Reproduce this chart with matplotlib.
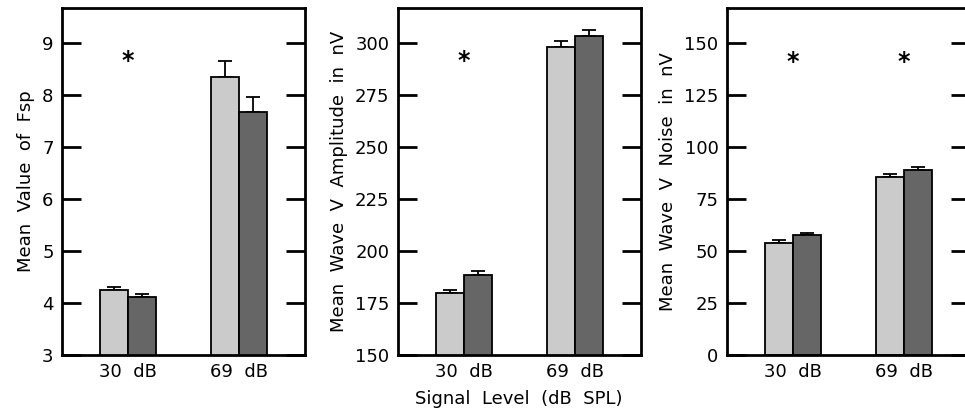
import matplotlib
matplotlib.use("Agg")
import matplotlib.pyplot as plt
import numpy as np

# ---------------------------------------------------------------------------
# Data
# ---------------------------------------------------------------------------
levels = ["30  dB", "69  dB"]

fsp_light = [4.25, 8.34]
fsp_light_err = [0.05, 0.31]
fsp_dark = [4.12, 7.68]
fsp_dark_err = [0.05, 0.28]

amp_light = [179.7, 297.9]
amp_light_err = [1.6, 3.1]
amp_dark = [188.5, 303.4]
amp_dark_err = [2.0, 3.0]

noise_light = [54.0, 85.8]
noise_light_err = [1.3, 1.3]
noise_dark = [57.6, 89.0]
noise_dark_err = [1.0, 1.5]

# significance markers: (category index, y value)
fsp_stars = [(0, 8.66)]
amp_stars = [(0, 291.5)]
noise_stars = [(0, 141), (1, 141)]

LIGHT = "#cbcbcb"
DARK = "#666666"
BAR_W = 0.252

plt.rcParams["font.family"] = ["DejaVu Sans"]
plt.rcParams["font.size"] = 13

fig = plt.figure(figsize=(9.65, 4.16), dpi=100)

panels = [
    (0.0642, fsp_light, fsp_light_err, fsp_dark, fsp_dark_err,
     (3, 9.67), [3, 4, 5, 6, 7, 8, 9], "Mean  Value  of  Fsp", fsp_stars),
    (0.4121, amp_light, amp_light_err, amp_dark, amp_dark_err,
     (150, 316.8), [150, 175, 200, 225, 250, 275, 300],
     "Mean  Wave  V  Amplitude  in  nV", amp_stars),
    (0.7531, noise_light, noise_light_err, noise_dark, noise_dark_err,
     (0, 166.8), [0, 25, 50, 75, 100, 125, 150],
     "Mean  Wave  V  Noise  in  nV", noise_stars),
]

x = np.arange(len(levels))
for i, (left, light, light_err, dark, dark_err, ylim, yticks, ylabel, stars) in enumerate(panels):
    ax = fig.add_axes([left, 0.1466, 0.2518, 0.834])
    ax.bar(x - BAR_W / 2, light, BAR_W, color=LIGHT, edgecolor="black",
           linewidth=1.3, zorder=2)
    ax.bar(x + BAR_W / 2, dark, BAR_W, color=DARK, edgecolor="black",
           linewidth=1.3, zorder=2)
    ax.errorbar(x - BAR_W / 2, light, yerr=[np.zeros(len(light)), light_err],
                fmt="none", ecolor="black", elinewidth=1.3, capsize=5,
                capthick=1.3, zorder=1)
    ax.errorbar(x + BAR_W / 2, dark, yerr=[np.zeros(len(dark)), dark_err],
                fmt="none", ecolor="black", elinewidth=1.3, capsize=5,
                capthick=1.3, zorder=1)
    for ci, sy in stars:
        ax.text(x[ci], sy, "*", ha="center", va="center", fontsize=17,
                fontweight="bold")

    ax.set_xlim(-0.595, 1.595)
    ax.set_ylim(*ylim)
    ax.set_yticks(yticks)
    ax.set_xticks(x)
    ax.set_xticklabels(levels)
    ax.tick_params(axis="x", length=0, pad=6)
    ax.tick_params(axis="y", direction="in", length=14, width=2,
                   right=True, pad=6)
    ax.set_ylabel(ylabel, labelpad=5)
    for sp in ax.spines.values():
        sp.set_linewidth(2)
    if i == 1:
        ax.set_xlabel("Signal  Level  (dB  SPL)", labelpad=6)

fig.savefig("out.png", dpi=100)
